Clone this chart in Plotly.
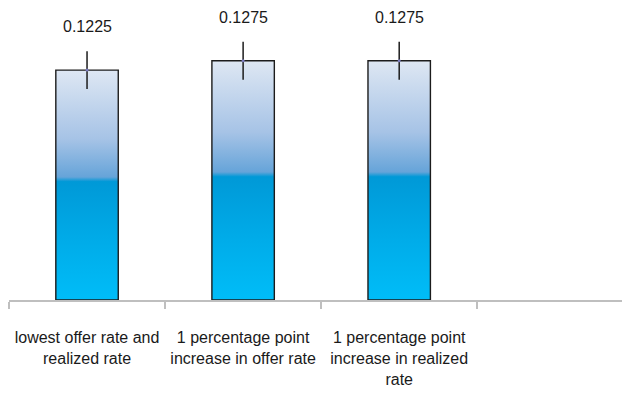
import plotly.graph_objects as go

categories = ["lowest offer rate and<br>realized rate",
              "1 percentage point<br>increase in offer rate",
              "1 percentage point<br>increase in realized<br>rate"]
values = [0.1225, 0.1275, 0.1275]
errors = [0.0101, 0.0101, 0.0101]
labels = ["0.1225", "0.1275", "0.1275"]

FONT = "Liberation Sans, Arial, sans-serif"
half = 0.2
xs = list(range(len(categories)))

fig = go.Figure()
grad = [[0.0, "#00bdf8"], [0.25, "#00ace9"], [0.515, "#0099d7"],
        [0.535, "#66a4d9"], [0.7, "#a6c3e6"], [1.0, "#dee7f3"]]
for x, v in zip(xs, values):
    fig.add_trace(go.Scatter(
        x=[x - half, x + half, x + half, x - half, x - half],
        y=[0, 0, v, v, 0],
        mode="lines", fill="toself",
        fillgradient=dict(type="vertical", colorscale=grad, start=0, stop=v),
        line=dict(color="#1c1c1c", width=1.4),
        hoverinfo="skip", showlegend=False))

fig.add_trace(go.Scatter(
    x=xs, y=values, mode="markers",
    marker=dict(size=3, color="#7c7cc0"),
    error_y=dict(type="data", array=errors, color="#1c1c1c", thickness=1.5, width=0),
    hoverinfo="skip", showlegend=False))

for x, v, e, t in zip(xs, values, errors, labels):
    fig.add_annotation(x=x, y=v + e, text=t, showarrow=False,
                       yanchor="bottom", yshift=14,
                       font=dict(family=FONT, size=16, color="#1a1a1a"))

fig.update_xaxes(range=[-0.5, 3.53], tickvals=xs, ticktext=categories,
                 ticks="", showgrid=False, zeroline=False, tickangle=0,
                 automargin=False,
                 showline=True, linecolor="#bfbfbf", linewidth=1.5,
                 tickfont=dict(family=FONT, size=16, color="#1a1a1a"),
                 ticklabelstandoff=22,
                 minor=dict(tickvals=[-0.5, 0.5, 1.5, 2.5], ticks="outside",
                            ticklen=7, tickcolor="#bfbfbf", tickwidth=1.5, showgrid=False))
fig.update_yaxes(range=[0, 0.1556], visible=False, showgrid=False, zeroline=False,
                 automargin=False)
fig.update_layout(width=630, height=397, margin=dict(l=1, r=0, t=0, b=104.5),
                  plot_bgcolor="white", paper_bgcolor="white")
fig.write_html("out.html")
